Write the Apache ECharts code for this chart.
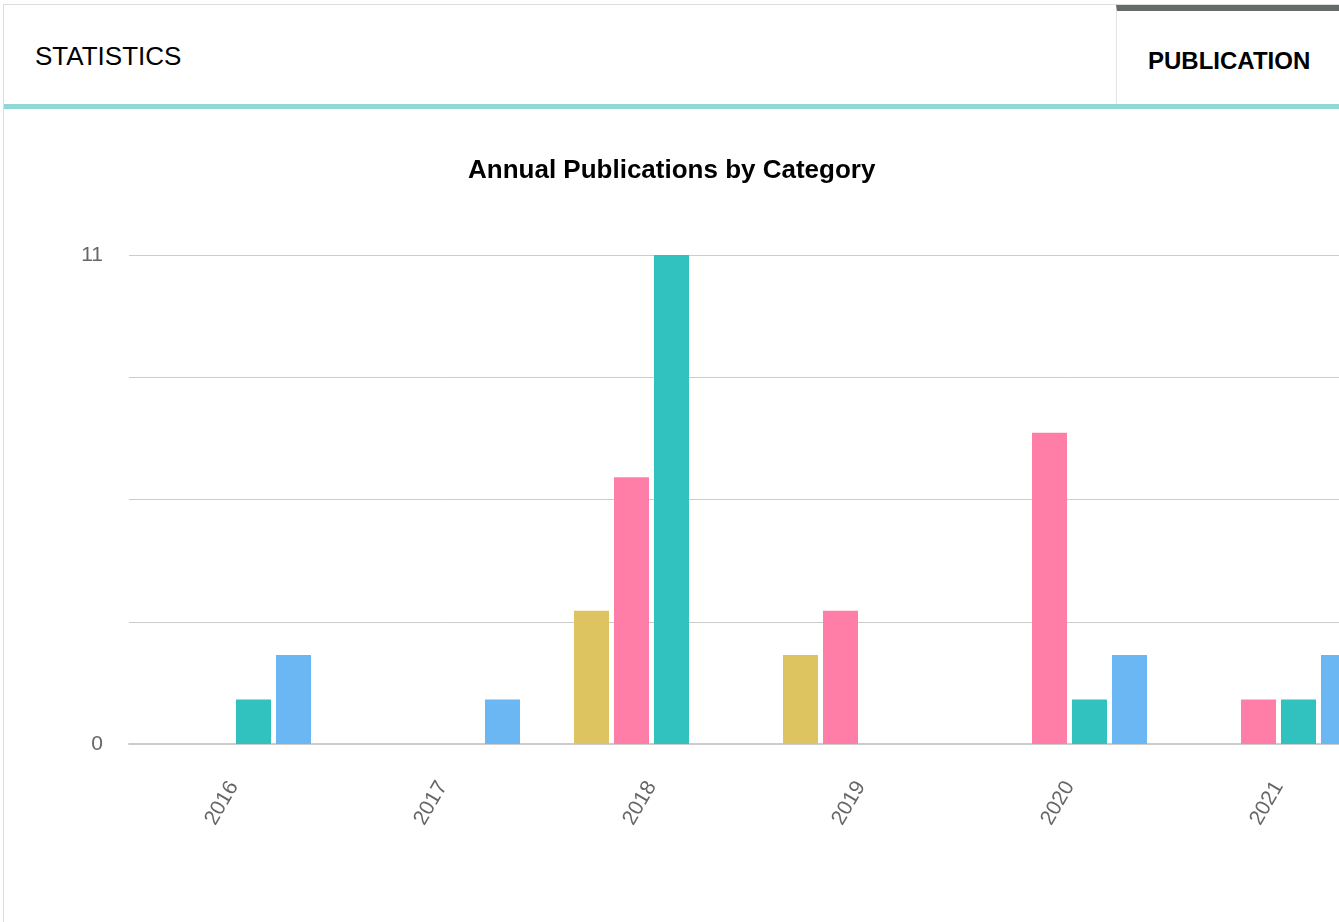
<!DOCTYPE html>
<html>
<head>
<meta charset="utf-8">
<script src="https://cdn.jsdelivr.net/npm/echarts@6/dist/echarts.min.js"></script>
<style>
  body { margin: 0; overflow: hidden; background: #fff; font-family: Arial, "Liberation Sans", sans-serif; }
  .card { position: absolute; left: 3px; top: 4px; width: 1400px; height: 930px; border-left: 1px solid #ddd; border-top: 1px solid #ddd; }
  .tab1 { position: absolute; left: 4px; top: 5px; width: 1112px; height: 99px; }
  .tab1 span { position: absolute; left: 31px; top: 36px; font-size: 26px; color: #000; }
  .tab2 { position: absolute; left: 1116px; top: 5px; width: 300px; height: 93px; border-left: 1px solid #e2e2e8; border-top: 6px solid #666b6a; }
  .tab2 span { position: absolute; left: 31px; top: 36px; font-size: 24px; font-weight: bold; color: #000; }
  .rule { position: absolute; left: 4px; top: 104px; width: 1400px; height: 5px; background: #8fd8d8; }
  #main { position: absolute; left: 4px; top: 110px; width: 1400px; height: 812px; }
</style>
</head>
<body>
<div class="card"></div>
<div class="tab1"><span>STATISTICS</span></div>
<div class="tab2"><span>PUBLICATION</span></div>
<div class="rule"></div>
<div id="main"></div>
<script>
var years = ["2016", "2017", "2018", "2019", "2020", "2021"];
var categoryNames = ["Book", "Conference", "Journal", "Other"];
var bookValues = [0, 0, 3, 2, 0, 0];
var conferenceValues = [0, 0, 6, 3, 7, 1];
var journalValues = [1, 0, 11, 0, 1, 1];
var otherValues = [2, 1, 0, 0, 2, 2];

var chartDom = document.getElementById("main");
var myChart = echarts.init(chartDom);

function makeSeries(name, values) {
  return {
    name: name,
    type: "bar",
    barWidth: 35,
    barGap: "14.3%",
    data: values,
  };
}

var option = {
  animation: false,
  color: ["#DEC460", "#FF7EA7", "#31C1BE", "#6AB7F3"],
  title: {
    text: "Annual Publications by Category",
    left: 464,
    top: 48,
    padding: 0,
    textStyle: {
      fontFamily: "Arial, Liberation Sans",
      fontSize: 26,
      fontWeight: "bold",
      color: "#000",
    },
  },
  tooltip: {
    trigger: "axis",
    axisPointer: { type: "shadow" },
  },
  grid: {
    left: 125,
    right: 21,
    top: 145,
    bottom: 178,
  },
  xAxis: {
    type: "category",
    data: years,
    axisLine: { lineStyle: { color: "#cccccc", width: 2 } },
    axisTick: { show: false },
    axisLabel: {
      rotate: 60,
      margin: 39,
      fontFamily: "Arial, Liberation Sans",
      fontSize: 21,
      color: "#666666",
    },
  },
  yAxis: {
    type: "value",
    min: 0,
    max: 11,
    interval: 2.75,
    axisLine: { show: false },
    axisTick: { show: false },
    splitLine: { lineStyle: { color: "#cccccc" } },
    axisLabel: {
      margin: 26,
      fontFamily: "Arial, Liberation Sans",
      fontSize: 21,
      color: "#666666",
      formatter: function (v) {
        return v === 0 || v === 11 ? String(v) : "";
      },
    },
  },
  series: [
    makeSeries(categoryNames[0], bookValues),
    makeSeries(categoryNames[1], conferenceValues),
    makeSeries(categoryNames[2], journalValues),
    makeSeries(categoryNames[3], otherValues),
  ],
};
option && myChart.setOption(option);
</script>
</body>
</html>
